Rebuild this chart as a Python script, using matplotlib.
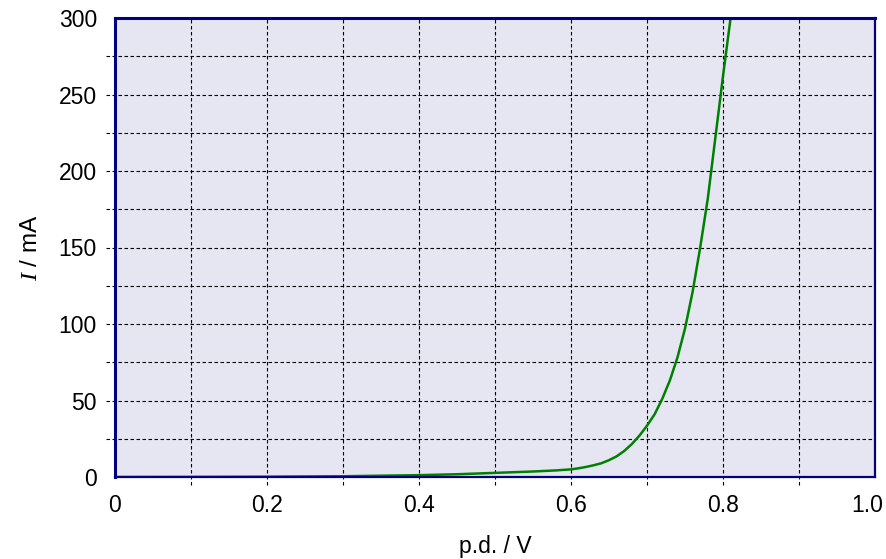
import matplotlib
matplotlib.use("Agg")
import matplotlib.pyplot as plt
import matplotlib.transforms as mtransforms

# Data (diode I-V characteristic)
voltage_v = [0.0, 0.1, 0.2, 0.3, 0.4, 0.45, 0.5, 0.55, 0.58, 0.6, 0.61, 0.62,
             0.63, 0.64, 0.65, 0.66, 0.67, 0.68, 0.69, 0.70, 0.71, 0.72, 0.73,
             0.74, 0.75, 0.76, 0.77, 0.78, 0.79, 0.80, 0.81, 0.815]
current_ma = [0.0, 0.05, 0.2, 0.5, 1.2, 1.8, 2.7, 3.6, 4.3, 5.0, 5.7, 6.6,
              7.7, 9.0, 11.0, 13.5, 17.0, 21.5, 27.0, 33.5, 41.0, 51.0, 63.0,
              78.0, 97.0, 121.0, 150.0, 182.0, 222.0, 262.0, 300.0, 322.0]

x_ticks = [0.0, 0.2, 0.4, 0.6, 0.8, 1.0]
x_tick_labels = ["0", "0.2", "0.4", "0.6", "0.8", "1.0"]
y_ticks = [0, 50, 100, 150, 200, 250, 300]
y_tick_labels = ["0", "50", "100", "150", "200", "250", "300"]
x_grid = [0.1, 0.2, 0.3, 0.4, 0.5, 0.6, 0.7, 0.8, 0.9]
y_grid = [25, 50, 75, 100, 125, 150, 175, 200, 225, 250, 275]

plt.rcParams['font.family'] = ['Liberation Sans', 'DejaVu Sans']
plt.rcParams['mathtext.fontset'] = 'custom'
plt.rcParams['mathtext.it'] = 'Liberation Serif:italic'
plt.rcParams['mathtext.rm'] = 'Liberation Sans'

W, H = 887, 559
fig = plt.figure(figsize=(W / 100, H / 100), dpi=100)
left, right, top, bottom = 115, 875, 18, 477
ax = fig.add_axes([left / W, 1 - bottom / H, (right - left) / W, (bottom - top) / H])
ax.set_facecolor('#e6e6f2')
ax.set_xlim(0, 1.0)
ax.set_ylim(0, 300)

dash = (0, (3.2, 2.2))
# grid lines, extended slightly outside the axes like tick marks
ext_x = 9 / (right - left)
ext_y = 8 / (bottom - top)
ax.hlines(y_grid, -ext_x, 1, transform=ax.get_yaxis_transform(), colors='black',
          linewidth=0.8, linestyles=[dash], clip_on=False, zorder=1)
ax.vlines(x_grid, -ext_y, 1, transform=ax.get_xaxis_transform(), colors='black',
          linewidth=0.8, linestyles=[dash], clip_on=False, zorder=1)

ax.plot(voltage_v, current_ma, color='#008000', linewidth=1.8, zorder=3)

for side, lw in (('left', 2.2), ('top', 2.2), ('right', 1.6), ('bottom', 1.6)):
    ax.spines[side].set_color('#000080')
    ax.spines[side].set_linewidth(lw)
    ax.spines[side].set_zorder(4)

ax.set_xticks(x_ticks)
ax.set_xticklabels(x_tick_labels)
ax.set_yticks(y_ticks)
ax.set_yticklabels(y_tick_labels)
ax.tick_params(axis='both', length=0, labelsize=16.5, colors='black')
ax.tick_params(axis='x', pad=12)
ax.tick_params(axis='y', pad=13)

lbl = ax.get_xticklabels()[-1]
lbl.set_horizontalalignment('right')
lbl.set_transform(lbl.get_transform() + mtransforms.ScaledTranslation(8 / 100, 0, fig.dpi_scale_trans))

ax.set_xlabel('p.d. / V', fontsize=16.5, labelpad=13)
ax.set_ylabel(r'$I$ / mA', fontsize=17.5, labelpad=12)

fig.savefig('out.png', dpi=100)
